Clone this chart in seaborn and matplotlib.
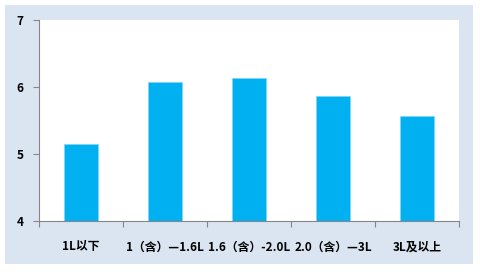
import matplotlib
matplotlib.use("Agg")
import matplotlib.pyplot as plt
import seaborn as sns
import pandas as pd
from matplotlib.patches import Rectangle

categories = ["1L以下", "1（含）—1.6L", "1.6（含）-2.0L", "2.0（含）—3L", "3L及以上"]
values = [5.15, 6.07, 6.14, 5.87, 5.56]
y_ticks = [4, 5, 6, 7]

sns.set_theme(style="white")
plt.rcParams['font.family'] = ['Noto Sans CJK SC', 'DejaVu Sans']

fig = plt.figure(figsize=(4.8, 2.72), dpi=100)
fig.patch.set_facecolor("white")
bg = Rectangle((5/480, 1-264/272), 468/480, 259/272, transform=fig.transFigure,
               facecolor="#dbe5f1", edgecolor="none", zorder=-10)
fig.patches.append(bg)
ax = fig.add_axes([39/480, 1-221/272, 420/480, 201/272])
ax.set_zorder(1)
ax.set_facecolor("white")

df = pd.DataFrame({"cat": categories, "val": values})
sns.barplot(data=df, x="cat", y="val", ax=ax, color="#00b0f0", saturation=1, width=0.4,
            edgecolor="#7fd6f7", linewidth=0.6)

ax.set_ylim(4, 7)
ax.set_xlim(-0.5, 4.5)
ax.set_yticks(y_ticks)
ax.set_yticklabels([str(t) for t in y_ticks], fontweight="bold", fontsize=8.5, color="black")
ax.set_xlabel("")
ax.set_ylabel("")
ax.set_xticks(range(len(categories)))
ax.set_xticklabels(categories, fontweight="bold", fontsize=8.5, color="black")
ax.set_xticks([i - 0.5 for i in range(len(categories) + 1)], minor=True)
ax.tick_params(axis="x", which="major", length=0, pad=14)
ax.tick_params(axis="x", which="minor", length=4, color="#868686", width=0.8, direction="out", bottom=True)
ax.tick_params(axis="y", which="major", length=4, color="#868686", width=0.8, direction="out", left=True, pad=7)

for s in ["top", "right"]:
    ax.spines[s].set_visible(False)
for s in ["left", "bottom"]:
    ax.spines[s].set_color("#868686")
    ax.spines[s].set_linewidth(0.8)

fig.savefig("out.png", dpi=100)
